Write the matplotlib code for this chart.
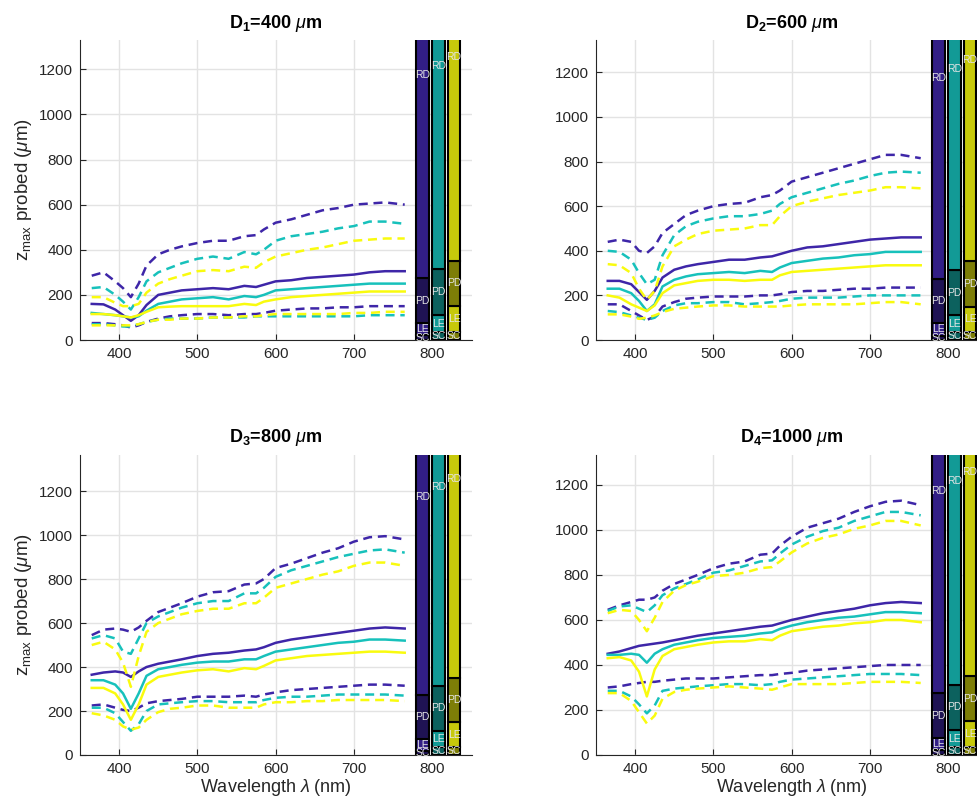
import matplotlib
matplotlib.use('Agg')
import matplotlib.pyplot as plt
from matplotlib import font_manager
import numpy as np

plt.rcParams['font.family'] = ['Liberation Sans', 'DejaVu Sans']


def find_font(name, weight, style='normal'):
    for f in font_manager.fontManager.ttflist:
        if f.name == name and f.style == style and f.weight == weight:
            return f.fname
    return None


bold_path = find_font('Liberation Sans', 700)
plt.rcParams['mathtext.fontset'] = 'custom'
plt.rcParams['mathtext.rm'] = 'Liberation Sans'
plt.rcParams['mathtext.it'] = 'Liberation Sans:italic'
plt.rcParams['mathtext.bf'] = 'Liberation Sans:bold'
title_font = font_manager.FontProperties(fname=bold_path, size=13) if bold_path else \
    font_manager.FontProperties(family='DejaVu Sans', weight='bold', size=12)

# wavelengths (nm)
wl = [365, 380, 395, 405, 415, 425, 435, 450, 465, 480, 500, 520, 540,
      560, 575, 585, 600, 620, 640, 660, 680, 700, 720, 740, 765]

# D1 = 400 um  (mid = solid, hi/lo = dashed), 1 purple, 2 teal, 3 yellow
d400_mid_1 = [160, 158, 135, 110, 85, 110, 155, 200, 210, 220, 225, 230, 225, 240, 235, 245, 260, 265, 275, 280, 285, 290, 300, 305, 305]
d400_mid_2 = [120, 115, 110, 105, 100, 105, 130, 160, 170, 180, 185, 190, 180, 195, 190, 200, 220, 225, 230, 235, 240, 245, 250, 250, 250]
d400_mid_3 = [115, 115, 110, 105, 100, 110, 125, 145, 148, 150, 150, 150, 150, 160, 155, 170, 180, 190, 195, 200, 205, 210, 215, 215, 215]
d400_hi_1 = [285, 300, 260, 230, 190, 250, 330, 380, 400, 415, 430, 440, 440, 460, 465, 490, 520, 535, 555, 575, 585, 600, 605, 610, 600]
d400_hi_2 = [230, 235, 200, 170, 135, 190, 260, 300, 320, 340, 360, 370, 360, 390, 380, 400, 440, 460, 470, 480, 495, 505, 525, 525, 515]
d400_hi_3 = [190, 190, 165, 150, 150, 160, 210, 250, 270, 285, 305, 310, 305, 325, 320, 345, 370, 385, 400, 410, 425, 440, 445, 450, 450]
d400_lo_1 = [75, 75, 70, 65, 55, 65, 80, 95, 105, 110, 115, 115, 110, 115, 115, 120, 130, 135, 140, 140, 145, 145, 150, 150, 150]
d400_lo_2 = [70, 70, 65, 60, 60, 70, 80, 90, 95, 95, 95, 100, 100, 100, 105, 105, 105, 105, 105, 105, 105, 105, 110, 110, 110]
d400_lo_3 = [65, 65, 65, 65, 65, 70, 80, 90, 90, 95, 95, 100, 100, 105, 105, 110, 115, 115, 115, 115, 115, 120, 120, 125, 125]

# D2 = 600 um
d600_mid_1 = [265, 265, 250, 215, 180, 220, 280, 315, 330, 340, 350, 360, 360, 370, 375, 385, 400, 415, 420, 430, 440, 450, 455, 460, 460]
d600_mid_2 = [230, 230, 210, 175, 130, 160, 240, 270, 285, 295, 300, 305, 300, 310, 305, 325, 345, 355, 365, 370, 380, 385, 395, 395, 395]
d600_mid_3 = [200, 190, 160, 145, 130, 155, 210, 245, 255, 265, 270, 270, 265, 270, 270, 290, 305, 310, 315, 320, 325, 330, 335, 335, 335]
d600_hi_1 = [440, 450, 440, 400, 390, 420, 480, 520, 560, 580, 600, 610, 615, 640, 650, 670, 710, 730, 750, 770, 790, 810, 830, 830, 815]
d600_hi_2 = [400, 395, 360, 300, 250, 270, 380, 470, 510, 530, 545, 555, 555, 565, 580, 610, 640, 660, 680, 700, 715, 735, 750, 755, 750]
d600_hi_3 = [340, 335, 300, 230, 180, 220, 330, 420, 450, 475, 490, 495, 500, 515, 515, 555, 600, 620, 635, 650, 660, 670, 685, 685, 680]
d600_lo_1 = [160, 160, 130, 110, 90, 105, 150, 170, 185, 190, 195, 195, 195, 200, 200, 205, 215, 220, 220, 225, 230, 230, 235, 235, 235]
d600_lo_2 = [130, 125, 110, 100, 90, 100, 130, 155, 165, 165, 170, 170, 160, 165, 170, 175, 185, 190, 190, 190, 195, 200, 200, 200, 200]
d600_lo_3 = [115, 115, 105, 95, 100, 110, 125, 140, 145, 150, 155, 155, 150, 150, 150, 150, 155, 160, 160, 160, 160, 165, 170, 170, 160]

# D3 = 800 um
d800_mid_1 = [365, 375, 380, 375, 355, 380, 400, 415, 425, 435, 450, 460, 465, 475, 480, 490, 510, 525, 535, 545, 555, 565, 575, 580, 575]
d800_mid_2 = [340, 340, 320, 280, 210, 280, 360, 390, 400, 410, 420, 425, 425, 435, 435, 450, 470, 480, 490, 500, 510, 515, 525, 525, 520]
d800_mid_3 = [305, 305, 280, 230, 160, 230, 320, 355, 365, 375, 385, 390, 380, 395, 390, 405, 430, 440, 450, 455, 460, 465, 470, 470, 465]
d800_hi_1 = [545, 570, 575, 570, 560, 580, 610, 650, 670, 690, 720, 740, 745, 775, 780, 800, 850, 870, 895, 920, 940, 970, 990, 995, 980]
d800_hi_2 = [530, 545, 530, 470, 460, 530, 600, 630, 650, 670, 690, 700, 700, 735, 735, 760, 810, 840, 860, 880, 900, 915, 930, 935, 920]
d800_hi_3 = [500, 515, 480, 420, 310, 450, 560, 600, 620, 640, 655, 665, 665, 690, 690, 715, 760, 780, 800, 820, 835, 860, 875, 875, 860]
d800_lo_1 = [225, 230, 215, 205, 200, 215, 235, 245, 250, 255, 265, 265, 265, 270, 265, 275, 285, 295, 300, 305, 310, 315, 320, 320, 315]
d800_lo_2 = [215, 215, 190, 150, 110, 140, 200, 230, 235, 240, 245, 245, 240, 240, 240, 250, 260, 265, 265, 270, 275, 275, 275, 275, 270]
d800_lo_3 = [190, 180, 160, 130, 115, 125, 160, 195, 210, 215, 225, 225, 215, 215, 215, 230, 240, 240, 245, 245, 250, 250, 250, 250, 245]

# D4 = 1000 um
d1000_mid_1 = [450, 460, 475, 485, 490, 495, 500, 510, 520, 530, 540, 550, 560, 570, 575, 585, 600, 615, 630, 640, 650, 665, 675, 680, 675]
d1000_mid_2 = [445, 445, 450, 445, 410, 450, 470, 490, 500, 510, 520, 525, 530, 540, 545, 560, 575, 590, 600, 610, 615, 625, 635, 635, 630]
d1000_mid_3 = [430, 435, 420, 370, 260, 380, 440, 470, 480, 490, 500, 505, 505, 515, 510, 530, 550, 560, 570, 575, 585, 590, 600, 600, 590]
d1000_hi_1 = [645, 665, 680, 690, 690, 700, 730, 760, 780, 800, 830, 850, 860, 890, 895, 930, 970, 1010, 1030, 1050, 1080, 1105, 1125, 1130, 1110]
d1000_hi_2 = [640, 660, 665, 650, 635, 665, 710, 740, 760, 780, 810, 820, 840, 860, 865, 895, 935, 970, 995, 1010, 1040, 1060, 1080, 1080, 1065]
d1000_hi_3 = [630, 645, 640, 600, 550, 610, 680, 730, 755, 770, 795, 800, 810, 830, 835, 860, 900, 940, 965, 980, 1005, 1020, 1040, 1040, 1020]
d1000_lo_1 = [300, 305, 315, 320, 325, 325, 330, 335, 340, 340, 340, 345, 350, 355, 355, 360, 365, 375, 380, 385, 390, 395, 400, 400, 400]
d1000_lo_2 = [285, 285, 260, 225, 185, 220, 285, 295, 300, 305, 310, 315, 315, 310, 315, 325, 335, 340, 345, 350, 355, 360, 360, 360, 355]
d1000_lo_3 = [275, 275, 240, 190, 140, 175, 250, 280, 290, 295, 300, 305, 300, 295, 290, 300, 315, 315, 315, 315, 320, 325, 325, 325, 320]

titles = [r'D$_\mathbf{1}$=400 $\mu$m', r'D$_\mathbf{2}$=600 $\mu$m',
          r'D$_\mathbf{3}$=800 $\mu$m', r'D$_\mathbf{4}$=1000 $\mu$m']
ylims = [1330, 1345, 1364, 1333]

# skin layer bars (depth boundaries in um): SC, LE, PD, RD
layer_names = ['SC', 'LE', 'PD', 'RD']
bar_x = [788, 808, 828]
bar1_bounds = [0, 20, 75, 275, 2075]
bar2_bounds = [0, 35, 110, 313, 2120]
bar3_bounds = [0, 35, 150, 352, 2160]

colors = ['#3e26a8', '#17c1bb', '#f9fb0e']

panels = [
    (d400_mid_1, d400_mid_2, d400_mid_3, d400_hi_1, d400_hi_2, d400_hi_3, d400_lo_1, d400_lo_2, d400_lo_3),
    (d600_mid_1, d600_mid_2, d600_mid_3, d600_hi_1, d600_hi_2, d600_hi_3, d600_lo_1, d600_lo_2, d600_lo_3),
    (d800_mid_1, d800_mid_2, d800_mid_3, d800_hi_1, d800_hi_2, d800_hi_3, d800_lo_1, d800_lo_2, d800_lo_3),
    (d1000_mid_1, d1000_mid_2, d1000_mid_3, d1000_hi_1, d1000_hi_2, d1000_hi_3, d1000_lo_1, d1000_lo_2, d1000_lo_3),
]

fig = plt.figure(figsize=(9.77, 8.01), dpi=100)
W, H = 977.0, 801.0
pos = [(80, 340), (596, 340), (80, 755), (596, 755)]

for i in range(4):
    left, bottom = pos[i]
    ax = fig.add_axes([left / W, (H - bottom) / H, 392 / W, 300 / H])
    ax.set_axisbelow(True)
    ax.grid(True, color='#e3e3e3', linewidth=1.0)

    data = panels[i]
    for k in range(3):
        ax.plot(wl, data[k], '-', color=colors[k], linewidth=1.8)
        ax.plot(wl, data[3 + k], '--', color=colors[k], linewidth=1.8, dashes=(3.6, 2.3))
        ax.plot(wl, data[6 + k], '--', color=colors[k], linewidth=1.8, dashes=(3.6, 2.3))

    # layer bars
    for b, bounds in enumerate([bar1_bounds, bar2_bounds, bar3_bounds]):
        c = np.array(matplotlib.colors.to_rgb(colors[b]))
        for j in range(4):
            shade = 0.5 if j in (0, 2) else 0.8
            ax.bar(bar_x[b], bounds[j + 1] - bounds[j], bottom=bounds[j], width=16,
                   color=c * shade, edgecolor='black', linewidth=1.5, zorder=3)
            ax.text(bar_x[b], (bounds[j] + bounds[j + 1]) / 2, layer_names[j],
                    color='#e6e6e6', fontsize=7.5, ha='center', va='center', zorder=4)

    ax.set_xlim(350, 851)
    ax.set_ylim(0, ylims[i])
    ax.set_xticks([400, 500, 600, 700, 800])
    ax.set_yticks([0, 200, 400, 600, 800, 1000, 1200])
    ax.tick_params(direction='in', length=4, labelsize=11, colors='#262626', pad=5)
    ax.spines['top'].set_visible(False)
    ax.spines['right'].set_visible(False)
    ax.spines['left'].set_color('#262626')
    ax.spines['bottom'].set_color('#262626')
    ax.set_title(titles[i], fontproperties=title_font, pad=9)
    if i in (0, 2):
        ax.set_ylabel(r'z$_{\rm max}$ probed ($\mu$m)', fontsize=13.5, color='#262626', labelpad=4)
    if i in (2, 3):
        ax.set_xlabel(r'Wavelength $\lambda$ (nm)', fontsize=13, color='#262626', labelpad=1)

plt.savefig('out.png', dpi=100)
